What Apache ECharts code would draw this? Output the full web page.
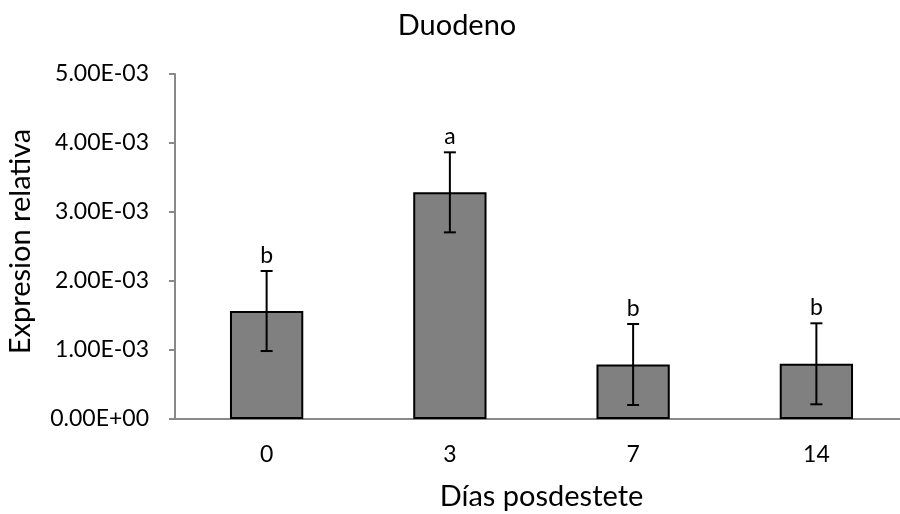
<!DOCTYPE html>
<html><head><meta charset="utf-8">
<script src="https://cdn.jsdelivr.net/npm/echarts@6/dist/echarts.min.js"></script>
<style>html,body{margin:0;padding:0;background:#fff}#c{width:900px;height:514px}</style>
</head><body><div id="c"></div>
<script>
const categories = ['0', '3', '7', '14'];
const values = [0.001565, 0.003285, 0.00079, 0.0008];
const errors = [0.00058, 0.00058, 0.000587, 0.000587];
const letters = ['b', 'a', 'b', 'b'];
const yTicks = [0, 0.001, 0.002, 0.003, 0.004, 0.005];

const FONT = 'Lato';
const chart = echarts.init(document.getElementById('c'));
chart.setOption({
  animation: false,
  backgroundColor: '#fff',
  title: {
    text: 'Duodeno', left: 452, top: 6, textAlign: 'center',
    textStyle: { fontFamily: FONT, fontSize: 29, fontWeight: 'normal', color: '#000' }
  },
  grid: { left: 175, right: -8, top: 74, bottom: 95, containLabel: false, outerBoundsMode: 'none' },
  xAxis: {
    type: 'category', data: categories,
    name: 'Días posdestete', nameLocation: 'middle', nameGap: 63,
    nameTextStyle: { fontFamily: FONT, fontSize: 29, color: '#000' },
    axisLine: { lineStyle: { color: '#898989', width: 2 } },
    axisTick: { show: false },
    axisLabel: { fontFamily: FONT, fontSize: 23, color: '#000', margin: 24 }
  },
  yAxis: {
    type: 'value', min: yTicks[0], max: yTicks[yTicks.length - 1], interval: yTicks[1] - yTicks[0],
    name: 'Expresion relativa', nameLocation: 'middle', nameGap: 140, nameRotate: 90,
    nameTextStyle: { fontFamily: FONT, fontSize: 29, color: '#000', padding: [0, 0, 0, 10] },
    axisLine: { show: true, lineStyle: { color: '#898989', width: 2 } },
    axisTick: { show: true, length: 6, lineStyle: { color: '#898989', width: 2 } },
    splitLine: { show: false },
    axisLabel: {
      fontFamily: FONT, fontSize: 23, color: '#000', margin: 26,
      formatter: v => {
        if (v === 0) return '0.00E+00';
        const e = Math.floor(Math.log10(v) + 1e-9);
        const m = v / Math.pow(10, e);
        return m.toFixed(2) + 'E' + (e < 0 ? '-' : '+') + String(Math.abs(e)).padStart(2, '0');
      }
    }
  },
  series: [
    {
      type: 'bar', data: values, barWidth: '40%',
      itemStyle: { color: '#808080', borderColor: '#000', borderWidth: 2 }
    },
    {
      type: 'custom',
      data: values.map((v, i) => [i, v, errors[i]]),
      renderItem: (params, api) => {
        const i = api.value(0), v = api.value(1), e = api.value(2);
        const top = api.coord([i, v + e]);
        const bot = api.coord([i, v - e]);
        const hw = 6;
        return {
          type: 'group',
          children: [
            { type: 'line', shape: { x1: top[0], y1: top[1], x2: bot[0], y2: bot[1] }, style: { stroke: '#000', lineWidth: 2 } },
            { type: 'line', shape: { x1: top[0] - hw, y1: top[1], x2: top[0] + hw, y2: top[1] }, style: { stroke: '#000', lineWidth: 2 } },
            { type: 'line', shape: { x1: bot[0] - hw, y1: bot[1], x2: bot[0] + hw, y2: bot[1] }, style: { stroke: '#000', lineWidth: 2 } },
            { type: 'text', x: top[0], y: top[1] - 4, style: { text: letters[i], fontFamily: FONT, fontSize: 23, fill: '#000', align: 'center', verticalAlign: 'bottom' } }
          ]
        };
      },
      z: 10
    }
  ]
});
</script></body></html>
